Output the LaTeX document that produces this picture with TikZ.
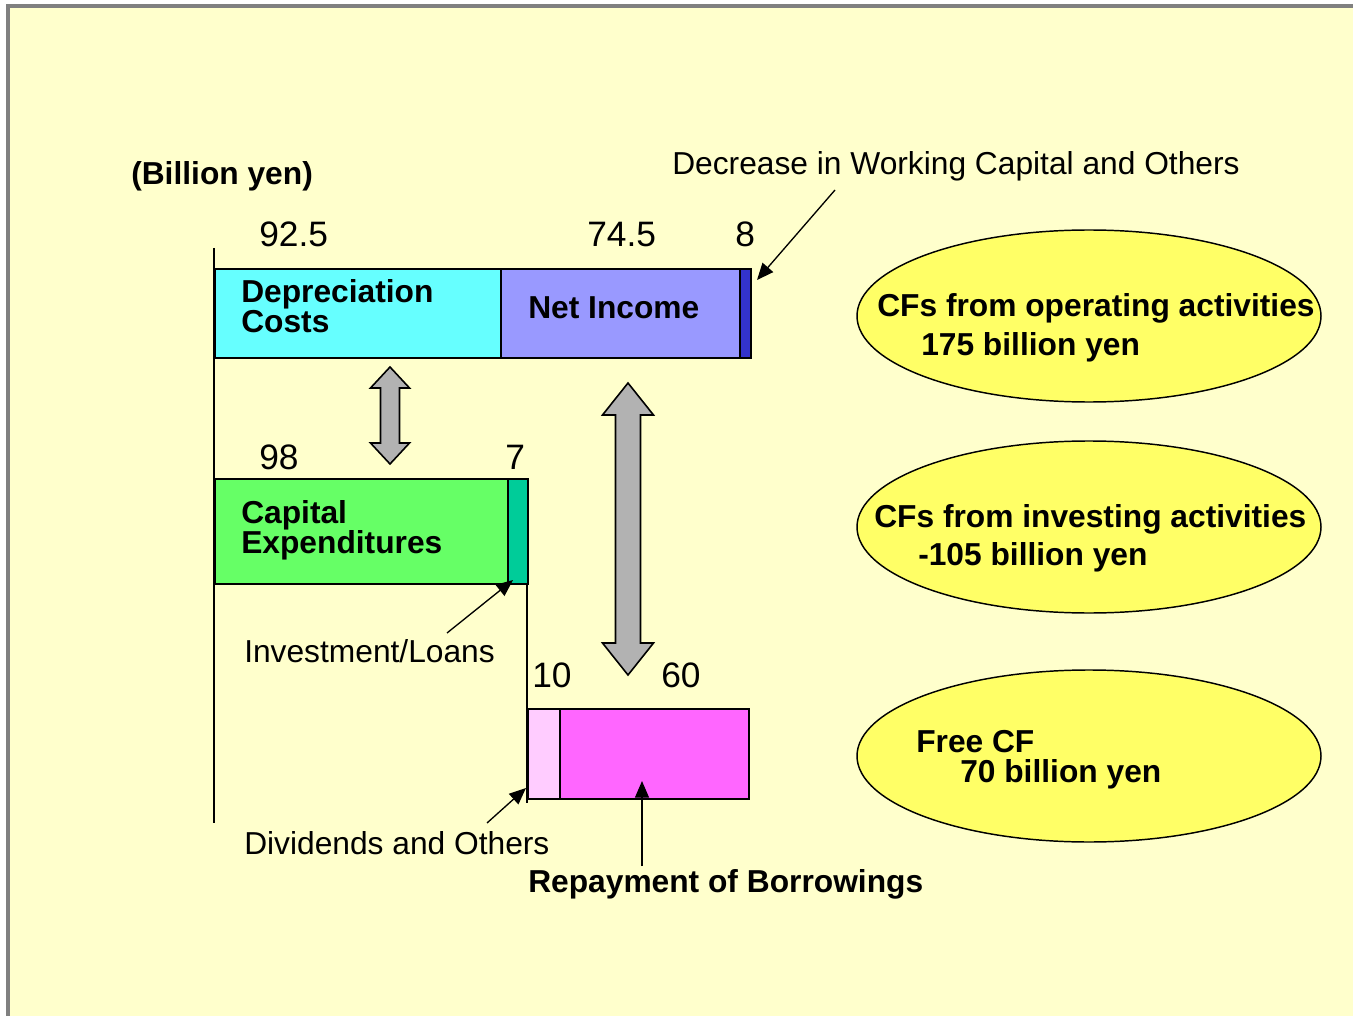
\documentclass[tikz,border=0pt]{standalone}
\usepackage{fontspec}
\setmainfont{Liberation Sans}
\usepackage{xcolor}
\usepackage{tikz}
\usetikzlibrary{arrows.meta, positioning, calc, shapes.geometric}
\definecolor{PaleYellow}{RGB}{255,255,204}
\definecolor{FrameGray}{RGB}{128,128,128}
\definecolor{DepCyan}{RGB}{102,255,255}
\definecolor{NetLilac}{RGB}{153,153,255}
\definecolor{WcBlue}{RGB}{51,51,204}
\definecolor{CapGreen}{RGB}{102,255,102}
\definecolor{InvTeal}{RGB}{0,204,153}
\definecolor{DivPink}{RGB}{255,204,255}
\definecolor{RepMagenta}{RGB}{255,102,255}
\definecolor{OvalYellow}{RGB}{255,255,102}
\definecolor{ShaftGray}{RGB}{178,178,178}
\def\px{0.75pt}

\begin{document}
\begin{tikzpicture}[x=0.75pt, y=-0.75pt,
  bar/.style={draw=black, line width=1.5pt, rectangle, inner sep=0pt,
              anchor=north west},
  numlbl/.style={font=\fontsize{26.5}{30}\selectfont, anchor=base west, inner sep=0pt},
  note/.style={font=\fontsize{23.8}{28}\selectfont, anchor=base west, inner sep=0pt},
  boldnote/.style={note, font=\fontsize{23.8}{28}\selectfont\bfseries},
  cfoval/.style={ellipse, draw=black, line width=1.1pt, fill=OvalYellow,
                 minimum width=464*\px, minimum height=172*\px, inner sep=0pt},
  annot/.style={line width=1pt, -{Triangle[length=12.5pt, width=10.5pt]}},
  shaft/.style={draw=black, line width=1.2pt, fill=ShaftGray}]

% Page and frame
\useasboundingbox (0,0) rectangle (1353,1016);
\fill[white] (0,0) rectangle (1353,1016);
\fill[PaleYellow] (8,6) rectangle (1353,1016);
\draw[FrameGray, line width=2.3pt] (8,1016) -- (8,6) -- (1353,6);

% Helper macro: vertical two-way arrow
% #1=x, #2=top, #3=bottom, #4=half shaft, #5=half head, #6=head length
\newcommand{\twowayarrow}[6]{%
  \draw[shaft] (#1,#2) -- ({#1+#5},{#2+#6}) -- ({#1+#4},{#2+#6})
    -- ({#1+#4},{#3-#6}) -- ({#1+#5},{#3-#6}) -- (#1,#3)
    -- ({#1-#5},{#3-#6}) -- ({#1-#4},{#3-#6}) -- ({#1-#4},{#2+#6})
    -- ({#1-#5},{#2+#6}) -- cycle;%
}

% Axis lines
\draw[line width=1.5pt] (214,248) -- (214,823);
\draw[line width=1.5pt] (527,583) -- (527,803);

% Operating bar
\node[bar, fill=DepCyan, minimum width=286*\px, minimum height=89*\px] (dep) at (214,268) {};
\node[bar, fill=NetLilac, minimum width=239*\px, minimum height=89*\px] (ni) at (500,268) {};
\node[bar, fill=WcBlue, minimum width=11*\px, minimum height=89*\px] (wc) at (739,268) {};

% Investing bar
\node[bar, fill=CapGreen, minimum width=293*\px, minimum height=105*\px] (capex) at (214,478) {};
\node[bar, fill=InvTeal, minimum width=20*\px, minimum height=105*\px] (inv) at (507,478) {};

% Financing bar
\node[bar, fill=DivPink, minimum width=32*\px, minimum height=90*\px] (div) at (527,708) {};
\node[bar, fill=RepMagenta, minimum width=189*\px, minimum height=90*\px] (rep) at (559,708) {};

% Bar labels
\node[boldnote] (deplbl) at (241,303) {Depreciation};
\node[boldnote] (costlbl) at (241,333) {Costs};
\node[boldnote] (nilbl) at (528,319) {Net Income};
\node[boldnote] (caplbl) at (241,523) {Capital};
\node[boldnote] (explbl) at (241,553) {Expenditures};

% Amounts
\node[numlbl] (depnum) at (259,247) {92.5};
\node[numlbl] (ninum) at (587,247) {74.5};
\node[numlbl] (wcnum) at (735,247) {8};
\node[numlbl] (capnum) at (259,469) {98};
\node[numlbl] (invnum) at (505,469) {7};
\node[numlbl] (divnum) at (532,687) {10};
\node[numlbl] (repnum) at (661,687) {60};

% Unit and notes
\node[boldnote] (unit) at (131,185) {(Billion yen)};
\node[note] (wcnote) at (672,175) {Decrease in Working Capital and Others};
\node[note] (invnote) at (244,662) {Investment/Loans};
\node[note] (divnote) at (244,854) {Dividends and Others};
\node[boldnote] (repnote) at (528,892) {Repayment of Borrowings};

% Note arrows
\coordinate (wctail) at (835,190);
\coordinate (invtail) at (447,633);
\coordinate (divtail) at (487,823);
\coordinate (reptail) at (642,866);
\coordinate (reptip) at ($(rep.south)+(0,-19)$);
\draw[annot] (wctail) -- ([shift={(5,12)}]wc.north east);
\draw[annot] (invtail) -- ([shift={(6,-5)}]inv.south west);
\draw[annot] (divtail) -- ([shift={(-1,-12)}]div.south west);
\draw[annot] (reptail) -- (reptail |- reptip);

% Two-way arrows
\twowayarrow{390}{367}{464}{9.5}{19.5}{21}
\twowayarrow{628}{383}{675}{12.5}{25.5}{32}

% Cash flow ovals
\node[cfoval] (opcf) at (1089,316) {};
\node[cfoval] (invcf) at (1089,527) {};
\node[cfoval] (freecf) at (1089,756) {};
\node[boldnote] (opline1) at (877,317) {CFs from operating activities};
\node[boldnote] (opline2) at (921,355) {175 billion yen};
\node[boldnote] (invline1) at (874,527) {CFs from investing activities};
\node[boldnote] (invline2) at (918,565) {-105 billion yen};
\node[boldnote] (freeline1) at (916,752) {Free CF};
\node[boldnote] (freeline2) at (960,782) {70 billion yen};

\end{tikzpicture}
\end{document}
